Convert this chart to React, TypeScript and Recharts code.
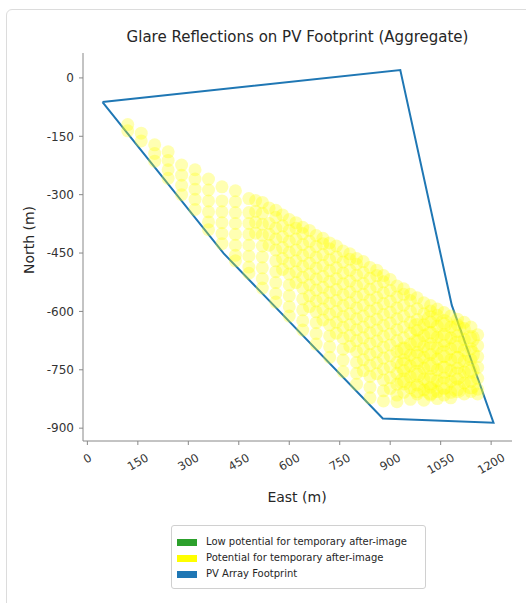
import { ScatterChart, Scatter, XAxis, YAxis } from "recharts";

const FONT = "'DejaVu Sans', Verdana, sans-serif";

const eastTicks = [0, 150, 300, 450, 600, 750, 900, 1050, 1200];
const northTicks = [0, -150, -300, -450, -600, -750, -900];

// PV array footprint outline (closed)
const footprintEast = [45, 930, 1083, 1207, 878, 405, 45];
const footprintNorth = [-62, 20, -584, -886, -875, -451, -62];

// glare reflection cloud, read column by column: [east, norths]
const glareColumns: [number, number[]][] = [
  [120, [-120, -136]],
  [160, [-142, -162]],
  [200, [-172, -194, -214]],
  [240, [-190, -212, -236, -258]],
  [280, [-224, -250, -276, -300]],
  [320, [-236, -260, -286, -312, -338]],
  [360, [-260, -288, -316, -344, -370, -390]],
  [400, [-280, -316, -344, -372, -400, -426]],
  [440, [-290, -318, -346, -374, -402, -430, -456, -470]],
  [480, [-310, -346, -374, -402, -430, -458, -486, -502]],
  [520, [-320, -348, -376, -404, -432, -460, -488, -516, -540]],
  [560, [-340, -358, -386, -414, -442, -470, -498, -526, -554, -576]],
  [600, [-364, -392, -420, -448, -476, -504, -532, -560, -588, -612]],
  [640, [-384, -400, -428, -456, -484, -512, -540, -568, -596, -624, -648]],
  [680, [-405, -433, -461, -489, -517, -545, -573, -601, -629, -657, -684]],
  [720, [-424, -439, -467, -495, -523, -551, -579, -607, -635, -663, -691, -718]],
  [760, [-445, -473, -501, -529, -557, -585, -613, -641, -669, -697, -725, -755]],
  [800, [-464, -479, -507, -535, -563, -591, -619, -647, -675, -703, -731, -759, -787]],
  [840, [-487, -515, -543, -571, -599, -627, -655, -683, -711, -739, -767, -795, -822]],
  [880, [-508, -524, -552, -580, -608, -636, -664, -692, -720, -748, -776, -804, -830]],
  [920, [-535, -563, -591, -619, -647, -675, -703, -731, -759, -787, -815, -832]],
  [960, [-556, -572, -600, -628, -656, -684, -712, -740, -768, -796, -826]],
  [1000, [-578, -606, -634, -662, -690, -718, -746, -774, -802, -828]],
  [1040, [-594, -610, -638, -666, -694, -722, -750, -778, -806, -824]],
  [1080, [-612, -640, -668, -696, -724, -752, -780, -808, -822]],
  [1120, [-628, -644, -672, -700, -728, -756, -784, -812]],
  [1160, [-660, -688, -716, -744, -772, -800, -812]],
];

// brighter band along the upper side of the cloud
const glareCore: [number, number[]][] = [
  [500, [-315, -343, -371, -399]],
  [540, [-334, -374, -402, -430]],
  [580, [-352, -380, -408, -436, -464, -492]],
  [620, [-372, -386, -414, -442, -470, -498, -526]],
  [660, [-392, -420, -448, -476, -504, -532, -560, -588]],
  [700, [-412, -426, -454, -482, -510, -538, -566, -594, -622]],
  [740, [-432, -460, -488, -516, -544, -572, -600, -628, -656]],
  [780, [-452, -466, -494, -522, -550, -578, -606, -634, -662, -690]],
  [820, [-472, -500, -528, -556, -584, -612, -640, -668, -696, -724, -752]],
  [860, [-494, -508, -536, -564, -592, -620, -648, -676, -704, -732, -760]],
  [900, [-518, -546, -574, -602, -630, -658, -686, -714, -742, -770, -798]],
  [940, [-542, -556, -584, -612, -640, -668, -696, -724, -752, -780, -808]],
  [980, [-565, -593, -621, -649, -677, -705, -733, -761, -789, -812]],
  [1020, [-585, -599, -627, -655, -683, -711, -739, -767, -795, -815]],
  [1060, [-603, -631, -659, -687, -715, -743, -771, -799, -815]],
  [1100, [-620, -634, -662, -690, -718, -746, -774, -802]],
  [1140, [-640, -668, -696, -724, -752, -780, -806]],
];

// saturated patch at the lower right
const glarePeak: [number, number[]][] = [
  [940, [-700, -740, -780]],
  [980, [-640, -680, -720, -760, -800]],
  [1020, [-620, -660, -700, -740, -780, -805]],
  [1060, [-630, -670, -710, -750, -790]],
  [1100, [-645, -685, -725, -765, -800]],
  [1140, [-670, -710, -750, -790]],
];

const lowPotential: { east: number; north: number }[] = [];

const toPoints = (cols: [number, number[]][]) =>
  cols.flatMap(([e, ns]) => ns.map((n) => ({ east: e, north: n })));

const footprint = footprintEast.map((e, i) => ({ east: e, north: footprintNorth[i] }));
const glare = toPoints(glareColumns);
const core = toPoints(glareCore);
const peak = toPoints(glarePeak);

const legendItems = [
  { label: "Low potential for temporary after-image", color: "#2ca02c" },
  { label: "Potential for temporary after-image", color: "#ffff00" },
  { label: "PV Array Footprint", color: "#1f77b4" },
];

function EastTick(props: any) {
  const { x, y, payload } = props;
  const label = String(payload.value);
  const w = label.length * 7;
  const half = (w * 0.5 + 11 * 0.866) / 2;
  const cy = y + 5 + half;
  return (
    <text
      x={x}
      y={cy}
      transform={`rotate(-30, ${x}, ${cy})`}
      textAnchor="middle"
      dominantBaseline="central"
      fontFamily={FONT}
      fontSize={11.5}
      fill="#333"
    >
      {label}
    </text>
  );
}

const dot = (r: number, opacity: number) => (p: any) =>
  <circle cx={p.cx} cy={p.cy} r={r} fill="#ffff00" fillOpacity={opacity} />;

export default function App() {
  return (
    <div style={{ position: "absolute", left: 0, top: 0, width: 526, height: 603, overflow: "hidden", background: "#fff", fontFamily: FONT }}>
      <div style={{ position: "absolute", left: 6, top: 9, width: 560, height: 640, border: "1px solid #dcdcdc", borderRadius: 6 }} />

      <div style={{ position: "absolute", left: 83, width: 429, top: 27, textAlign: "center", fontSize: 15, color: "#262626", lineHeight: "20px" }}>
        Glare Reflections on PV Footprint (Aggregate)
      </div>

      <div style={{ position: "absolute", left: 0, top: 0 }}>
        <ScatterChart width={526} height={603} margin={{ top: 53, right: 14, bottom: 102, left: 23 }}>
          <XAxis
            type="number"
            dataKey="east"
            domain={[-13, 1262]}
            ticks={eastTicks}
            allowDataOverflow
            height={60}
            tickSize={4}
            axisLine={{ stroke: "#888" }}
            tickLine={{ stroke: "#888" }}
            tick={<EastTick />}
            interval={0}
          />
          <YAxis
            type="number"
            dataKey="north"
            domain={[-933, 64]}
            ticks={northTicks}
            allowDataOverflow
            width={60}
            tickSize={4}
            tickMargin={5}
            axisLine={{ stroke: "#888" }}
            tickLine={{ stroke: "#888" }}
            tick={{ fontFamily: FONT, fontSize: 12, fill: "#333" }}
            interval={0}
          />
          <Scatter
            name="PV Array Footprint"
            data={footprint}
            line={{ stroke: "#1f77b4", strokeWidth: 2 }}
            lineType="joint"
            shape={() => <g />}
            isAnimationActive={false}
          />
          <Scatter name="Low potential" data={lowPotential} fill="#2ca02c" isAnimationActive={false} />
          <Scatter name="Potential" data={glare} shape={dot(6.5, 0.3)} isAnimationActive={false} />
          <Scatter name="Potential core" data={core} shape={dot(6.5, 0.3)} isAnimationActive={false} />
          <Scatter name="Potential peak" data={peak} shape={dot(9, 0.32)} isAnimationActive={false} />
        </ScatterChart>
      </div>

      <div style={{ position: "absolute", left: 29, top: 240, transform: "translate(-50%, -50%) rotate(-90deg)", fontSize: 14, color: "#262626", whiteSpace: "nowrap" }}>
        North (m)
      </div>
      <div style={{ position: "absolute", left: 297, top: 497, transform: "translate(-50%, -50%)", fontSize: 14, color: "#262626", whiteSpace: "nowrap" }}>
        East (m)
      </div>

      <div style={{ position: "absolute", left: 171, top: 525, width: 253, height: 62, border: "1px solid #d0d0d0", borderRadius: 3 }}>
        {legendItems.map((it, i) => (
          <div key={it.label} style={{ position: "absolute", left: 5, top: 9 + i * 16, display: "flex", alignItems: "center", fontSize: 10, color: "#262626", lineHeight: "14px", whiteSpace: "nowrap" }}>
            <span style={{ display: "inline-block", width: 20, height: 7, background: it.color, marginRight: 9 }} />
            {it.label}
          </div>
        ))}
      </div>
    </div>
  );
}
